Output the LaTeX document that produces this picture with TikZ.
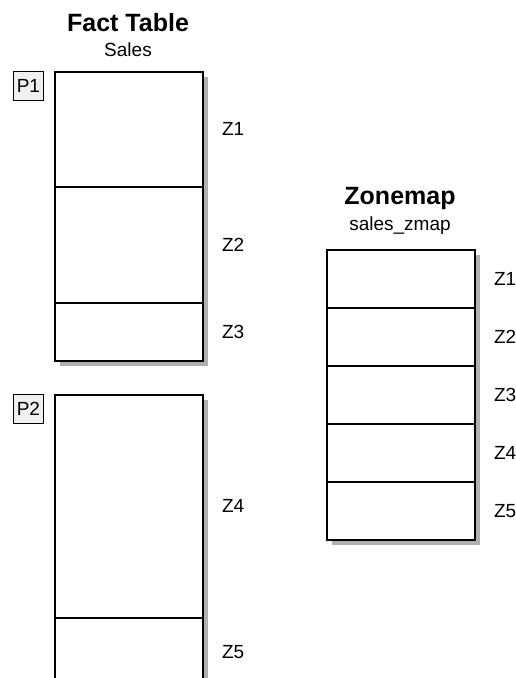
\documentclass[tikz,border=0pt]{standalone}
\usepackage{fontspec}
\setmainfont{Liberation Sans}
\usetikzlibrary{positioning,shadows}
\definecolor{ZMShadow}{HTML}{B0B0B0}
\definecolor{ZMTag}{HTML}{F0F0F0}

\begin{document}
\begin{tikzpicture}[x=1pt,y=-1pt,
  tblrow/.style={draw,line width=1.8pt,fill=white,minimum width=148pt,inner sep=0pt,anchor=north west,
    drop shadow={shadow xshift=5pt,shadow yshift=-5pt,fill=ZMShadow,opacity=1}},
  zlabel/.style={inner sep=2pt,font=\fontsize{19}{22}\selectfont},
  ptag/.style={draw,line width=0.8pt,fill=ZMTag,minimum width=30pt,minimum height=29pt,inner sep=0pt,
    anchor=north west,font=\fontsize{19}{22}\selectfont},
  ttl/.style={anchor=base,inner sep=0pt,font=\fontsize{25}{30}\selectfont\bfseries},
  subttl/.style={anchor=base,inner sep=0pt,font=\fontsize{19}{22}\selectfont}]
  \useasboundingbox (0,0) rectangle (515,678);
  \clip (0,0) rectangle (515,678);
  % fact table
  \node[ttl] (facttitle) at (128,31) {Fact Table};
  \node[subttl] (factname) at (128,56) {Sales};
  \foreach \n/\ty/\h in {1/71/115, 2/186/116, 3/302/58, 4/394/223, 5/617/69} {
    \node[tblrow,minimum height=\h pt] (f\n) at (54,\ty) {};
    \node[zlabel,right=16pt of f\n] {Z\n};
  }
  \node[ptag] (p1) at (13,71) {P1};
  \node[ptag] (p2) at (13,394) {P2};
  % zonemap
  \node[ttl] (zmtitle) at (400,204) {Zonemap};
  \node[subttl] (zmname) at (400,230) {sales\_zmap};
  \foreach \i in {1,...,5} {
    \node[tblrow,minimum height=58pt] (zm\i) at (326,{191+58*\i}) {};
    \node[zlabel,right=16pt of zm\i] {Z\i};
  }
\end{tikzpicture}
\end{document}
